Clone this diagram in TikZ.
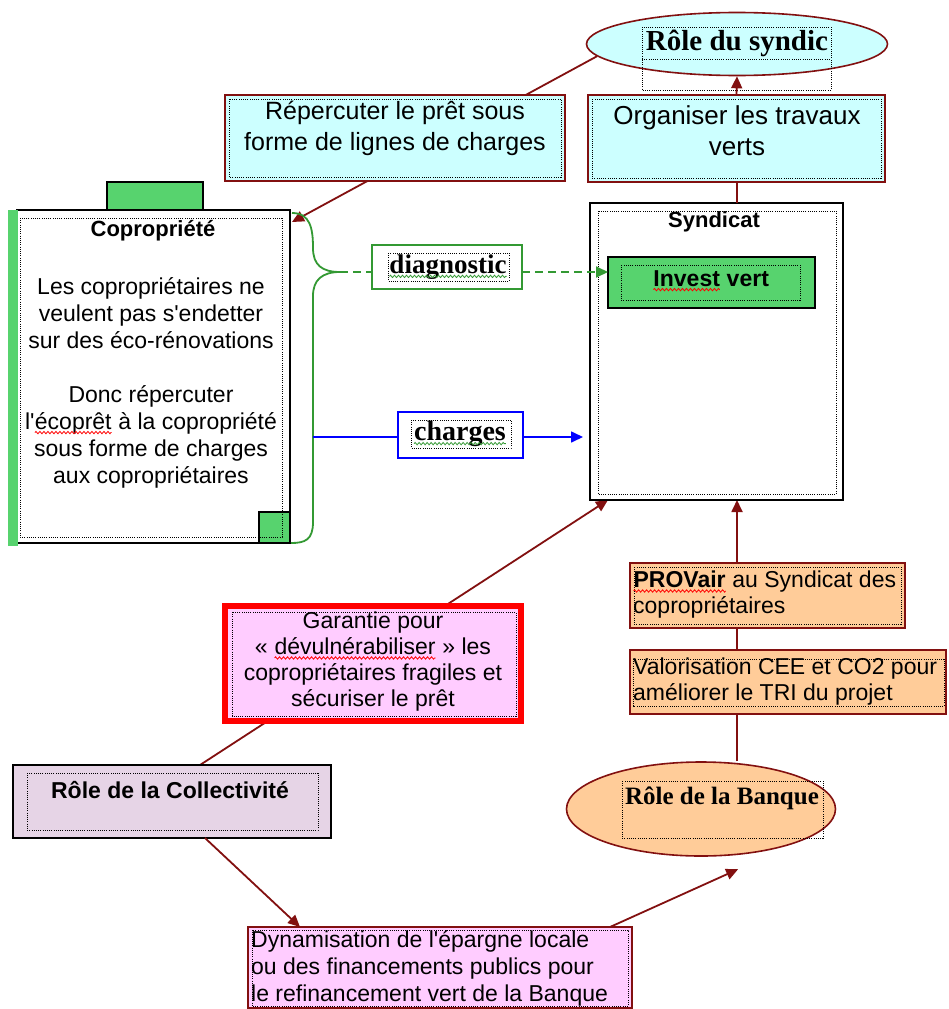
\documentclass[tikz,border=0pt]{standalone}
\usepackage{fontspec}
\setmainfont{Liberation Sans}
\newfontfamily\tnr{Liberation Serif}
\usetikzlibrary{shapes.geometric,arrows.meta,backgrounds,decorations.pathmorphing}
\definecolor{dred}{RGB}{130,16,16}
\definecolor{cyanf}{RGB}{204,255,255}
\definecolor{pinkf}{RGB}{255,204,255}
\definecolor{orangef}{RGB}{255,204,153}
\definecolor{greenf}{RGB}{87,211,110}
\definecolor{gline}{RGB}{51,153,51}
\definecolor{lilac}{RGB}{230,212,230}
\newcommand\fsz[2]{\fontsize{#1}{#2}\selectfont}
\newcommand\sq[2]{\tikz[baseline=(sqw.base)]{\node[inner sep=0pt,outer sep=0pt](sqw){#2};\draw[#1,line width=0.8pt,decorate,decoration={zigzag,amplitude=1.2pt,segment length=4pt}]([yshift=-3pt]sqw.base west)--([yshift=-3pt]sqw.base east);}}
\newcommand\placebox[6]{\node[bx,#6,anchor=north west,minimum width={#4-#2},minimum height={#5-#3}] (#1) at (#2,#3) {};}
\newcommand\apo{\textquotesingle}
\begin{document}
\begin{tikzpicture}[x=1pt,y=-1pt,
  bx/.style={draw,inner sep=0pt,outer sep=0pt,line width=1.6pt},
  dotfr/.style={line width=0.9pt,dash pattern=on 0.9pt off 1.3pt},
  conn/.style={draw=dred,line width=1.8pt},
  arr/.style={conn,-{Triangle[length=12pt,width=11pt]}},
  txt/.style={inner sep=0pt,align=center}]
\useasboundingbox (0,0) rectangle (948,1009);

% ---- nodes ----
\node[ellipse,draw=dred,fill=cyanf,line width=1.6pt,minimum width=301pt,minimum height=63pt,inner sep=0pt] (syndic) at (737,44) {};
\draw[dotfr] (642,27) rectangle (831,90);
\draw[dotfr] (642,59) -- (831,59);
\placebox{organiser}{588}{95}{885}{182}{draw=dred,fill=cyanf}
\placebox{repercuter}{225}{95}{565}{181}{draw=dred,fill=cyanf}
\placebox{copro}{17}{210}{290}{543}{draw=black,fill=white}
\fill[greenf] (8,210) rectangle (18,546);
\placebox{tab}{107}{182}{203}{210}{draw=black,fill=greenf,line width=1.4pt}
\placebox{corner}{259}{512}{290}{543}{draw=black,fill=greenf,line width=1.4pt}
\placebox{diag}{372}{245}{522}{289}{draw=gline,fill=white,line width=1.4pt}
\placebox{charges}{398}{412}{523}{458}{draw=blue,fill=white,line width=1.4pt}
\placebox{syndicat}{590}{203}{843}{500}{draw=black,fill=white,line width=2pt}
\placebox{invest}{608}{257}{815}{308}{draw=black,fill=greenf,line width=1.8pt}
\placebox{garantie}{225}{606}{521}{721}{draw=red,fill=pinkf,line width=6pt}
\placebox{collect}{13}{765}{331}{838}{draw=black,fill=lilac,line width=1.8pt}
\placebox{dyn}{248}{927}{632}{1008}{draw=dred,fill=pinkf}
\node[ellipse,draw=dred,fill=orangef,line width=1.6pt,minimum width=269pt,minimum height=94pt,inner sep=0pt] (banque) at (701,809) {};
\placebox{provair}{630}{563}{905}{628}{draw=dred,fill=orangef}
\placebox{valor}{630}{650}{946}{714}{draw=dred,fill=orangef}

% ---- dotted inner frames ----
\draw[dotfr] (592,99) rectangle (881,178);
\draw[dotfr] (229,99) rectangle (561,177);
\draw[dotfr] (20,218) rectangle (282,537);
\draw[dotfr] (388,253) rectangle (509,281);
\draw[dotfr] (411,420) rectangle (511,448);
\draw[dotfr] (598,211) rectangle (836,494);
\draw[dotfr] (621,265) rectangle (800,300);
\draw[dotfr] (232,612) rectangle (516,716);
\draw[dotfr] (27,773) rectangle (318,830);
\draw[dotfr] (252,930) rectangle (628,1006);
\draw[dotfr] (622,781) rectangle (823,838);
\draw[dotfr] (634,567) rectangle (901,624);
\draw[dotfr] (633,659) rectangle (944,706);

% ---- texts ----
\node[txt,font=\tnr\bfseries\fsz{29}{32}] (tsyndic) at (737,43) {Rôle du syndic};
\node[txt,font=\fsz{26}{31}] (torg) at (737,131) {Organiser les travaux\\verts};
\node[txt,font=\fsz{25}{31}] (trep) at (395,128) {Répercuter le prêt sous\\forme de lignes de charges};
\node[txt,font=\bfseries\fsz{22}{26}] (tcopro) at (153,231) {Copropriété};
\node[txt,font=\fsz{23}{27}] (tcbody) at (151,383) {Les copropriétaires ne\\veulent pas s\apo endetter\\sur des éco-rénovations\\[27pt]Donc répercuter\\l\apo\sq{red}{écoprêt} à la copropriété\\sous forme de charges\\aux copropriétaires};
\node[txt,font=\tnr\bfseries\fsz{27}{28}] (tdiag) at (448,267) {\sq{gline}{diagnostic}};
\node[txt,font=\tnr\bfseries\fsz{28}{28}] (tcharges) at (460,434) {\sq{gline}{charges}};
\node[txt,font=\bfseries\fsz{22}{26}] (tsyndicat) at (714,222) {Syndicat};
\node[txt,font=\bfseries\fsz{23}{26}] (tinvest) at (711,281) {\sq{red}{Invest} vert};
\node[txt,font=\fsz{23}{26}] (tgarantie) at (373,662) {Garantie pour\\« \sq{red}{dévulnérabiliser} » les\\copropriétaires fragiles et\\sécuriser le prêt};
\node[txt,font=\bfseries\fsz{23}{26}] (tcollect) at (170,790) {Rôle de la Collectivité};
\node[txt,font=\fsz{23}{27},align=left,anchor=west] (tdyn) at (251,968) {Dynamisation de l\apo épargne locale\\ou des financements publics pour\\le refinancement vert de la Banque};
\node[txt,font=\tnr\bfseries\fsz{25}{28}] (tbanque) at (722,798) {Rôle de la Banque};
\node[txt,font=\fsz{23}{26},align=left,anchor=west] (tprovair) at (633,595) {\sq{red}{\textbf{PROVair}} au Syndicat des\\copropriétaires};
\node[txt,font=\fsz{23}{26},align=left,anchor=west] (tvalor) at (633,682) {Valorisation CEE et CO2 pour\\améliorer le TRI du projet};

% ---- connectors ----
\coordinate (vline) at (737,0);
\begin{pgfonlayer}{background}
\fill[white] (0,0) rectangle (948,1009);
\draw[arr] (syndic.185) -- ([xshift=2pt,yshift=-12pt]copro.north east);
\draw[arr] ([xshift=28pt]collect.north) -- ([xshift=18pt]syndicat.south west);
\draw[arr] (vline |- banque.north) -- (vline |- syndicat.south);
\end{pgfonlayer}
\draw[arr] (organiser.north) -- (syndic.south);
\draw[conn] (syndicat.north -| vline) -- (organiser.south -| vline);
\draw[arr] ([xshift=33pt]collect.south) -- ([xshift=52pt]dyn.north west);
\draw[arr,shorten >=1pt] ([xshift=-22pt]dyn.north east) -- ([xshift=38pt,yshift=-12pt]banque.south);

% brace
\coordinate (btip) at (340,272);
\draw[gline,line width=1.8pt] ([xshift=2pt,yshift=-3pt]copro.north east) .. controls (310,213) and (313,228) .. (313,248) .. controls (313,265) and (322,272) .. (btip) .. controls (322,272) and (313,280) .. (313,296) -- (313,522) .. controls (313,540) and (305,543) .. ([xshift=1pt]copro.south east);
\draw[gline,line width=1.8pt,dash pattern=on 8pt off 5pt] (btip) -- (diag.west |- btip);
\draw[gline,line width=1.8pt,dash pattern=on 8pt off 5pt,-{Triangle[length=12pt,width=11pt]}] (diag.east |- btip) -- (invest.west |- btip);
\coordinate (bst) at (313,437);
\draw[blue,line width=1.6pt] (bst) -- (charges.west |- bst);
\draw[blue,line width=1.6pt,-{Triangle[length=12pt,width=11pt]},shorten >=7pt] (charges.east |- bst) -- (syndicat.west |- bst);
\end{tikzpicture}
\end{document}
